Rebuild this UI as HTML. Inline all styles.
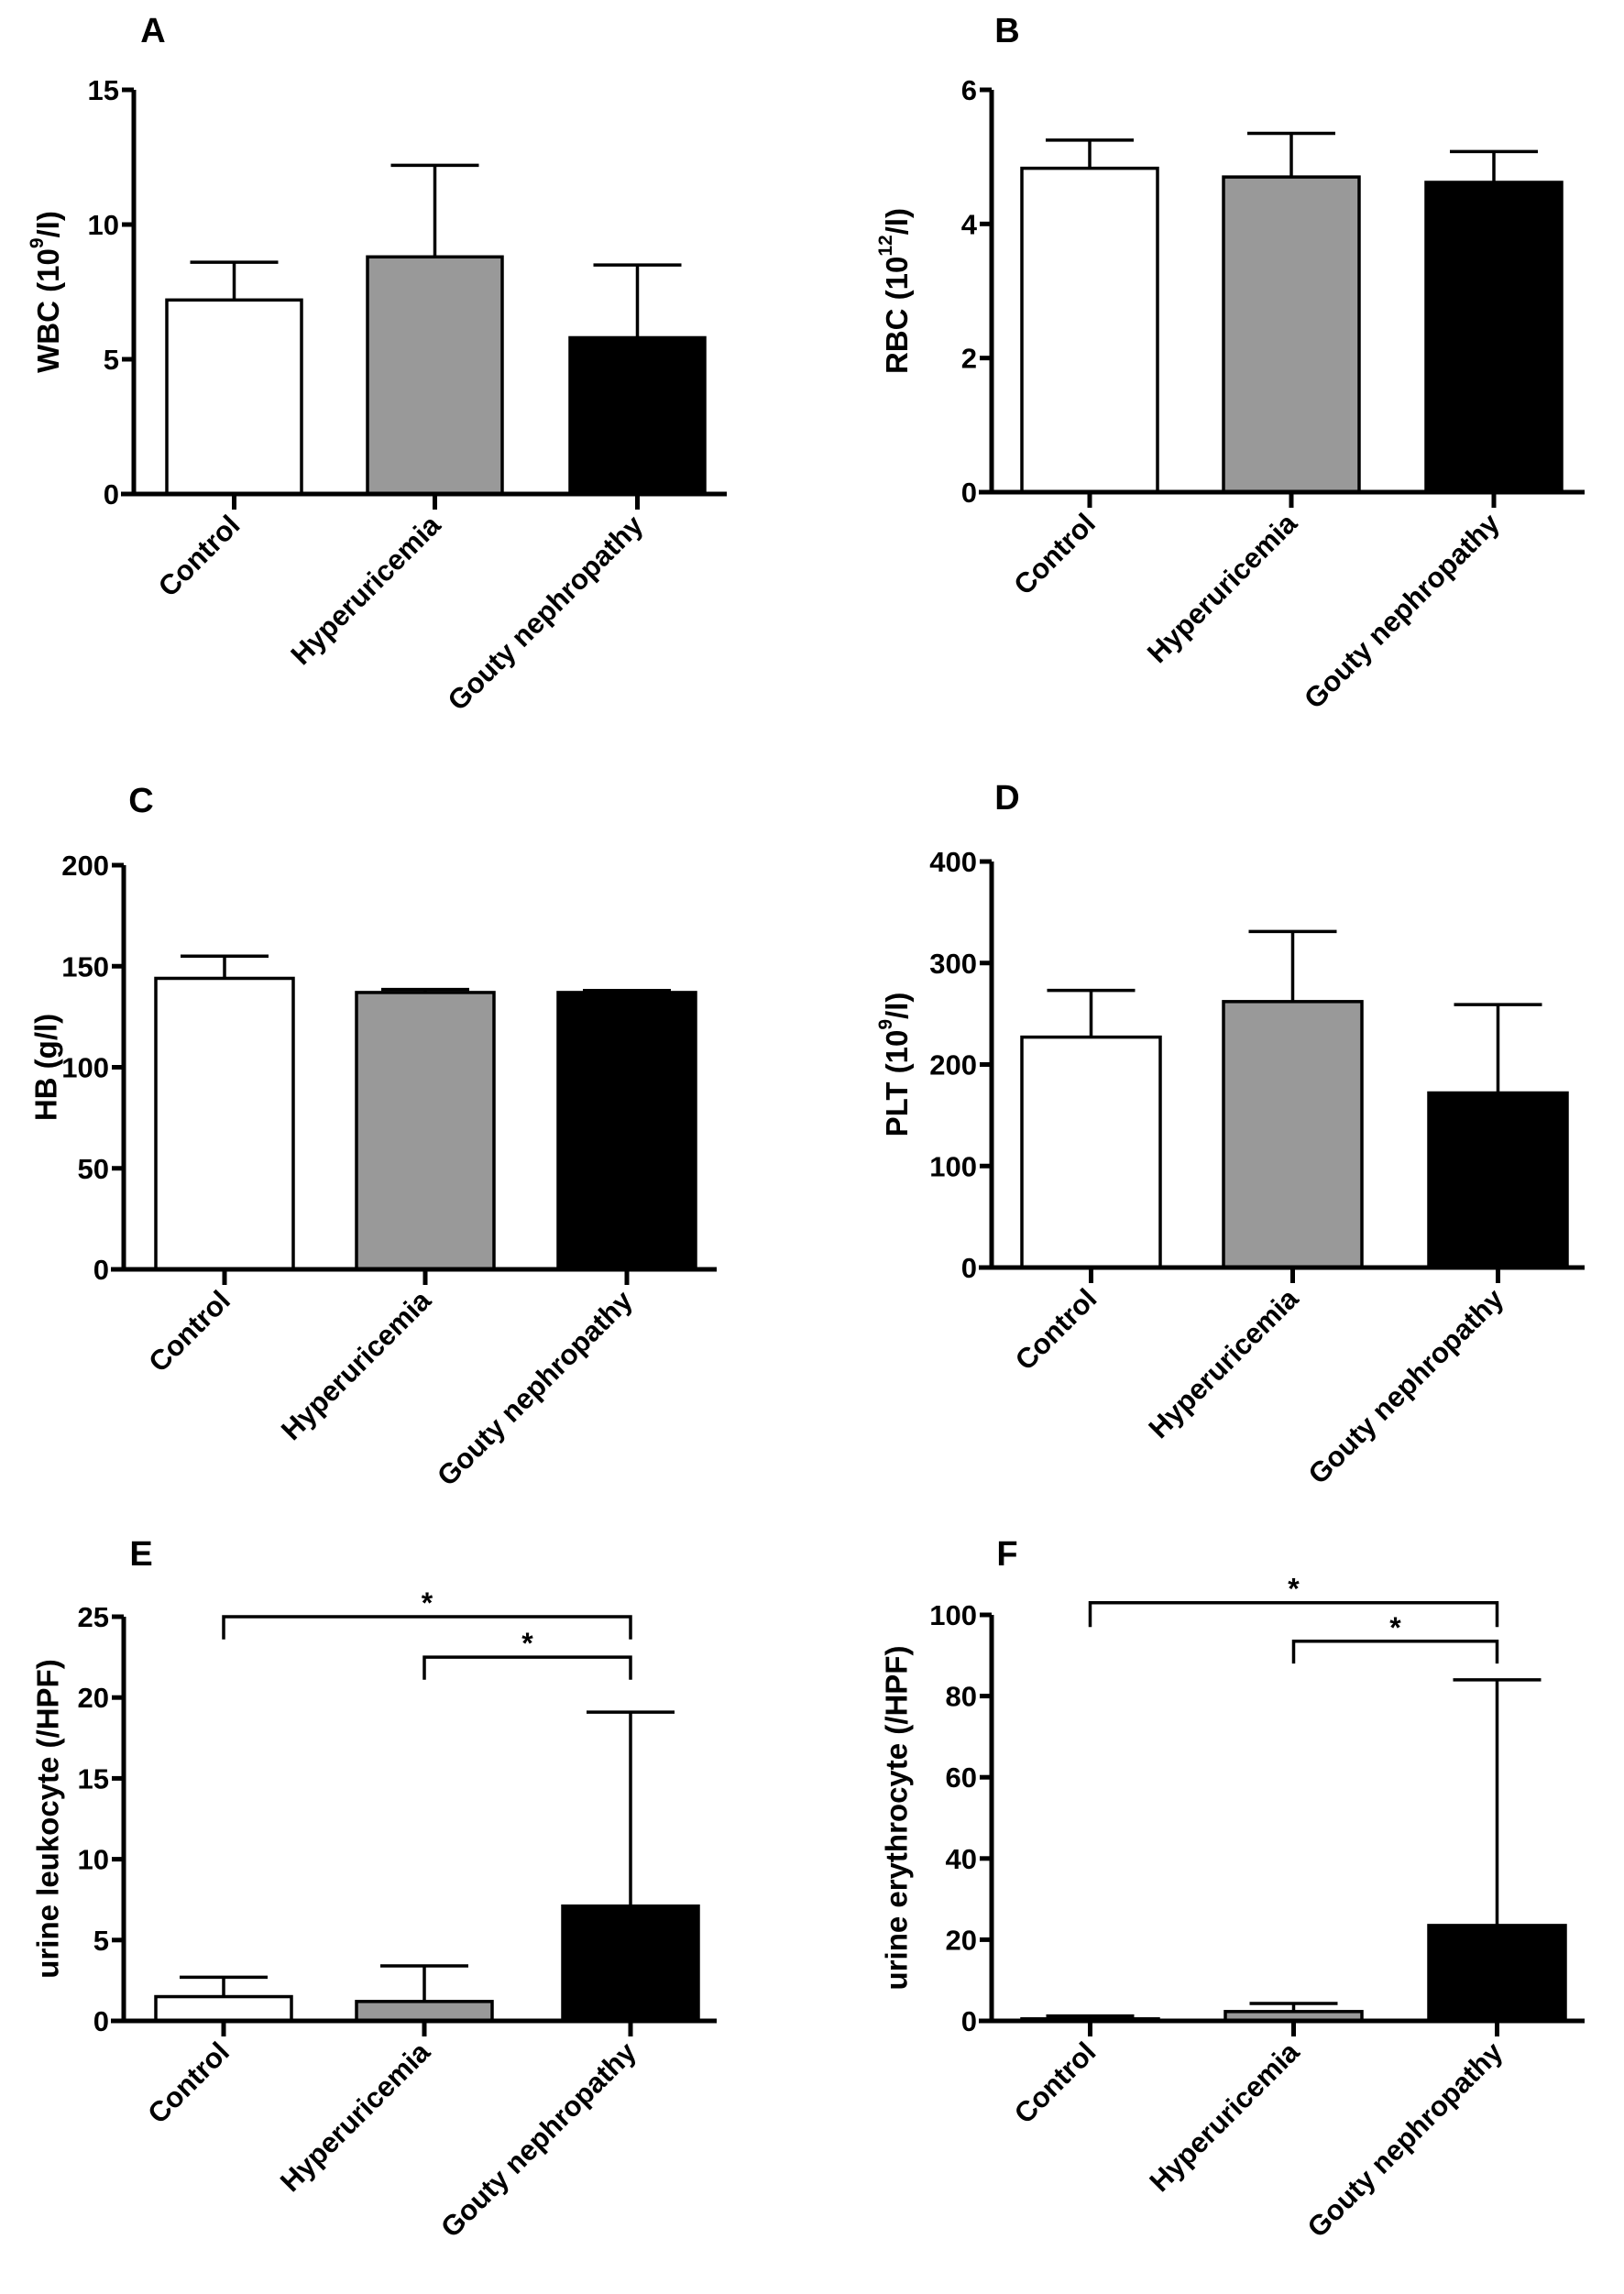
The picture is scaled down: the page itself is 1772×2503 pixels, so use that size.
<!DOCTYPE html>
<html><head><meta charset="utf-8">
<style>
html,body{margin:0;padding:0;background:#fff;}
svg{display:block;font-family:"Liberation Sans",Arial,sans-serif;font-weight:bold;}
</style></head>
<body>
<svg id="fig" width="1772" height="2503" viewBox="0 0 1772 2503" xmlns="http://www.w3.org/2000/svg"></svg>
<script>
const categories = ["Control","Hyperuricemia","Gouty nephropathy"];
const fills = ["#ffffff","#999999","#000000"];
const wbcMeans = [7.2, 8.8, 5.8];
const wbcUpper = [8.6, 12.2, 8.5];
const rbcMeans = [4.83, 4.7, 4.62];
const rbcUpper = [5.25, 5.35, 5.08];
const hbMeans = [144, 137, 137];
const hbUpper = [155, 138.5, 138];
const pltMeans = [227, 262, 172];
const pltUpper = [273, 331, 259];
const leukMeans = [1.5, 1.2, 7.1];
const leukUpper = [2.7, 3.4, 19.1];
const eryMeans = [0.5, 2.3, 23.5];
const eryUpper = [1.2, 4.3, 84];
const wbcTicks = [0,5,10,15];
const rbcTicks = [0,2,4,6];
const hbTicks = [0,50,100,150,200];
const pltTicks = [0,100,200,300,400];
const leukTicks = [0,5,10,15,20,25];
const eryTicks = [0,20,40,60,80,100];
// brackets: [fromIndex, toIndex, barValue, legValue]
const leukBrackets = [[0,2,25,23.6],[1,2,22.5,21.1]];
const eryBrackets = [[0,2,103,97],[1,2,93.5,88]];

const panels = [
 {id:"a",letter:"A",lx:167,ly:32,title:["WBC (10","9","/l)"],tx:52,ax:146,top:98,zero:539,end:793,bx:[182,401,622],bw:147,ticks:wbcTicks,means:wbcMeans,upper:wbcUpper,br:[]},
 {id:"b",letter:"B",lx:1099,ly:32,title:["RBC (10","12","/l)"],tx:978,ax:1082,top:98,zero:537,end:1729,bx:[1115,1335,1556],bw:148,ticks:rbcTicks,means:rbcMeans,upper:rbcUpper,br:[]},
 {id:"c",letter:"C",lx:154,ly:872,title:["HB (g/l)"],tx:50,ax:135,top:944,zero:1385,end:782,bx:[170,389,609],bw:150,ticks:hbTicks,means:hbMeans,upper:hbUpper,br:[]},
 {id:"d",letter:"D",lx:1099,ly:869,title:["PLT (10","9","/l)"],tx:978,ax:1082,top:940,zero:1383,end:1729,bx:[1115,1335,1559],bw:151,ticks:pltTicks,means:pltMeans,upper:pltUpper,br:[]},
 {id:"e",letter:"E",lx:154,ly:1694,title:["urine leukocyte (/HPF)"],tx:52,ax:135,top:1764,zero:2205,end:782,bx:[170,389,614],bw:148,ticks:leukTicks,means:leukMeans,upper:leukUpper,br:leukBrackets},
 {id:"f",letter:"F",lx:1099,ly:1694,title:["urine erythrocyte (/HPF)"],tx:978,ax:1082,top:1762,zero:2205,end:1729,bx:[1115,1337,1559],bw:149,ticks:eryTicks,means:eryMeans,upper:eryUpper,br:eryBrackets}
];
const NS="http://www.w3.org/2000/svg";
const svg=document.getElementById("fig");
function mk(tag,attrs,parent){const e=document.createElementNS(NS,tag);for(const k in attrs)e.setAttribute(k,attrs[k]);parent.appendChild(e);return e;}

panels.forEach(p=>{
  const g=mk("g",{},svg);
  
  
  const maxV=p.ticks[p.ticks.length-1];
  const y=v=>p.zero-(v/maxV)*(p.zero-p.top);
  const cx=i=>p.bx[i]+p.bw/2;
  const L=mk("text",{x:p.lx,y:p.ly+14,"font-size":38,"text-anchor":"middle"},g);
  L.textContent=p.letter;
  
  
  p.means.forEach((m,i)=>{
    const r=mk("rect",{x:p.bx[i],y:y(m),width:p.bw,height:p.zero-y(m),fill:fills[i],stroke:"#000","stroke-width":3.5},g);
    
    
    const e=mk("path",{d:`M${cx(i)} ${y(m)}V${y(p.upper[i])}M${cx(i)-48} ${y(p.upper[i])}H${cx(i)+48}`,stroke:"#000","stroke-width":3.5,fill:"none"},g);
    
    
  });
  const ya=mk("path",{d:`M${p.ax} ${p.top}V${p.zero}`,stroke:"#000","stroke-width":5},g);
  
  
  const xa=mk("path",{d:`M${p.ax-14} ${p.zero}H${p.end}`,stroke:"#000","stroke-width":5},g);
  
  
  p.ticks.forEach(t=>{
    mk("path",{d:`M${p.ax-13} ${y(t)}H${p.ax}`,stroke:"#000","stroke-width":5},g);
    const tl=mk("text",{x:p.ax-16,y:y(t)+11,"font-size":31,"text-anchor":"end"},g);
    tl.textContent=t;
    
    
  });
  categories.forEach((c,i)=>{
    mk("path",{d:`M${cx(i)} ${p.zero}V${p.zero+17}`,stroke:"#000","stroke-width":5},g);
    const tx=cx(i)+8, ty=p.zero+36;
    const cl=mk("text",{x:tx,y:ty,"font-size":31,"text-anchor":"end",transform:`rotate(-45 ${tx} ${ty})`},g);
    cl.textContent=c;
    
    
  });
  const my=(p.top+p.zero)/2;
  const t=mk("text",{x:p.tx,y:my,"font-size":33,"text-anchor":"middle",transform:`rotate(-90 ${p.tx} ${my})`,"dominant-baseline":"central"},g);
  
  
  if(p.title.length===1){t.textContent=p.title[0];}
  else{
    const a=mk("tspan",{},t);a.textContent=p.title[0];
    const s=mk("tspan",{dy:-12,"font-size":21},t);s.textContent=p.title[1];
    const b=mk("tspan",{dy:12},t);b.textContent=p.title[2];
  }
  p.br.forEach((b,k)=>{
    const x1=cx(b[0]),x2=cx(b[1]),yb=y(b[2]),yl=y(b[3]);
    const br=mk("path",{d:`M${x1} ${yl}V${yb}H${x2}V${yl}`,stroke:"#000","stroke-width":3.5,fill:"none"},g);
    
    
    const st=mk("text",{x:(x1+x2)/2,y:yb-4,"font-size":32,"text-anchor":"middle"},g);
    st.textContent="*";
    
    
  });
});
</script>
</body></html>
